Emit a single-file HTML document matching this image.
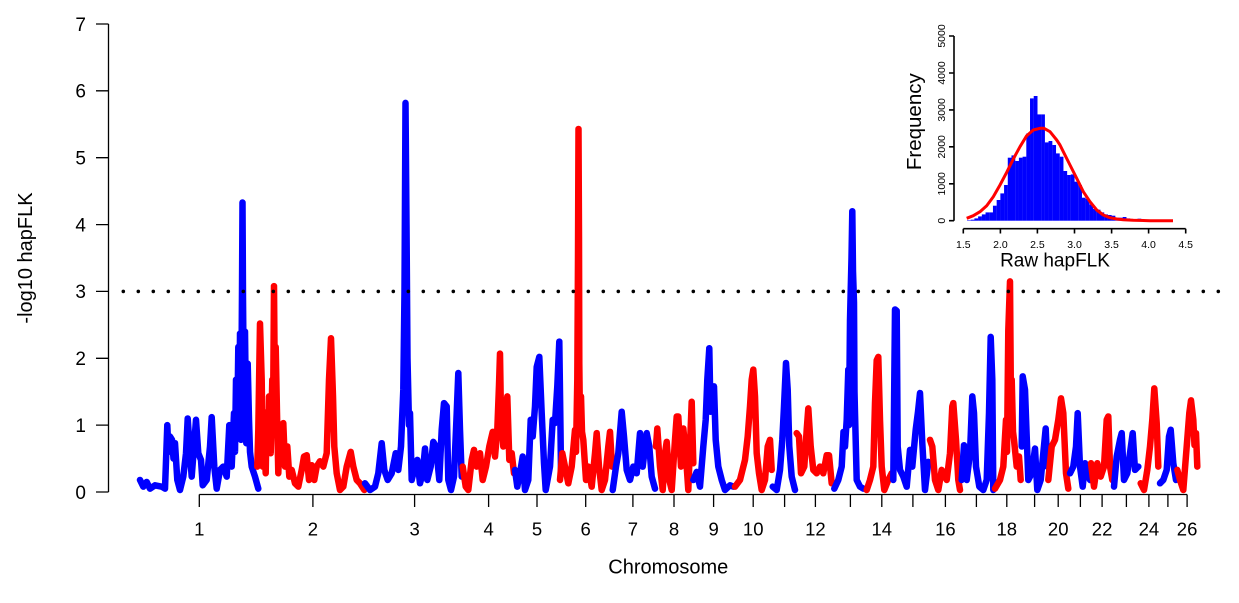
<!DOCTYPE html>
<html>
<head>
<meta charset="utf-8">
<style>
html,body{margin:0;padding:0;background:#fff;}
svg{display:block;}
text{font-family:"Liberation Sans",Arial,sans-serif;fill:#000;}
</style>
</head>
<body>
<svg width="1239" height="603" viewBox="0 0 1239 603" xmlns="http://www.w3.org/2000/svg">
<rect x="0" y="0" width="1239" height="603" fill="#fff"/>

<g transform="translate(0,492) scale(1,-66.86)" fill="none" stroke-linejoin="round" stroke-linecap="round" stroke-width="6.5">
<polyline vector-effect="non-scaling-stroke" stroke="#0000ff" points="140,0.18 143.3,0.08 146.7,0.15 150,0.05 155,0.1 161.7,0.08 165,0.05 167.3,1.0 168.5,0.6 170,0.83 172,0.78 173.5,0.5 175,0.73 177.3,0.18 180,0.03 183.3,0.23 186,0.58 187.7,1.1 190,0.58 191.7,0.23 194,0.68 196,1.08 198.3,0.58 201,0.48 202.7,0.1 206.7,0.18 210,0.68 211.7,1.12 214.3,0.38 216.7,0.05 220,0.33 223.3,0.38 226.7,0.23 229.3,1.0 231.7,0.38 234,1.18 235,0.6 236,1.68 237.3,1.03 238.3,2.17 239.3,0.93 240,2.37 241,0.78 242,3.0 242.5,4.33 243,2.9 243.7,1.68 244.3,0.9 245,2.4 246.3,0.73 247.7,1.92 249,1.08 250,0.6 251.7,0.38 255,0.23 258.3,0.05"/>
<polyline vector-effect="non-scaling-stroke" stroke="#ff0000" points="257.3,0.38 258.3,0.93 260,2.52 261.7,1.68 262.7,0.38 263.5,1.2 264.3,0.68 265.7,0.28 266.5,1.0 267.7,1.08 268.3,0.6 269,1.43 270.7,0.58 272.3,1.68 273,1.0 274,3.08 275,1.2 275.7,2.17 277,1.18 278.3,0.28 279.5,0.8 280.7,0.53 283.3,1.03 285,0.38 287.3,0.68 289.3,0.23 291.7,0.33 295,0.13 298.3,0.08 301.7,0.33 304,0.53 306.7,0.55 309,0.18 311.7,0.4 314.3,0.18 316.7,0.38 320,0.46 323.3,0.38 326.7,0.58 329,1.68 331,2.3 333,1.43 334.3,0.68 336.7,0.28 340,0.03 343.3,0.08 346.7,0.38 350.7,0.6 353.3,0.38 356.7,0.18 360,0.13 364.3,0.03"/>
<polyline vector-effect="non-scaling-stroke" stroke="#0000ff" points="365,0.13 370,0.03 375,0.08 378.3,0.28 381.7,0.73 384.3,0.33 387.7,0.18 391.7,0.28 395.7,0.58 398.3,0.33 401,0.68 403.3,1.53 404.5,3.0 405.5,5.82 406.5,4.0 407.5,2.0 409,1.0 410,1.18 411.7,0.18 415,0.38 417.3,0.48 420,0.13 422.7,0.28 425,0.65 427.3,0.18 430.7,0.38 433.3,0.75 436,0.68 439.3,0.18 441.7,0.93 444,1.33 446.7,1.28 448.3,0.18 451,0.03 454,0.23 456.7,1.18 458.3,1.78 460,0.93 461.7,0.23"/>
<polyline vector-effect="non-scaling-stroke" stroke="#ff0000" points="462.7,0.38 465.7,0.08 468.3,0.03 471.7,0.48 474,0.63 476.7,0.38 480,0.58 482.7,0.18 486,0.38 489.3,0.68 492.7,0.9 495,0.53 497.3,0.93 499,1.6 500,2.07 500.8,1.3 501.7,1.08 503.3,0.68 505.3,1.38 506.3,0.9 507.3,1.43 509.3,0.48 511.7,0.58 514,0.28"/>
<polyline vector-effect="non-scaling-stroke" stroke="#0000ff" points="515,0.33 517.3,0.08 520,0.28 522.7,0.53 525,0.03 528.3,0.18 530.7,1.08 532.7,0.83 535,1.28 536.7,1.87 539.3,2.02 541.7,1.18 544,0.43 545.7,0.03 550,0.38 552.7,1.08 555,1.03 557.3,1.58 559.3,2.25 560.5,0.93 561,0.3"/>
<polyline vector-effect="non-scaling-stroke" stroke="#ff0000" points="560,0.18 562.3,0.58 565,0.38 568.3,0.13 571.7,0.38 575,0.93 576,0.6 577.3,1.68 578,3.5 578.5,5.43 579,3.8 579.3,1.92 580,1.0 581,1.43 582,0.9 583.3,0.78 586,0.18 588.3,0.38 591.7,0.08 595,0.58 596.7,0.88 599,0.38 601.7,0.03 605,0.18 608.3,0.68 610,0.9 612,0.38"/>
<polyline vector-effect="non-scaling-stroke" stroke="#0000ff" points="612.7,0.03 616,0.38 618.3,0.58 621.7,1.2 624,0.83 626.7,0.33 630,0.18 633.3,0.38 636.7,0.28 640,0.88 642.7,0.38 646.7,0.88 649.3,0.68 651.7,0.23 655,0.05"/>
<polyline vector-effect="non-scaling-stroke" stroke="#ff0000" points="656,0.68 657.3,0.95 660,0.38 662.7,0.03 665,0.58 666.7,0.75 669.3,0.18 671.7,0.03 675,0.78 676.7,1.13 678.3,1.13 681,0.38 683.3,0.95 686,0.53 688.3,0.03 691.7,1.35 693.3,0.43"/>
<polyline vector-effect="non-scaling-stroke" stroke="#0000ff" points="693.3,0.18 696.7,0.3 700,0.08 703.3,0.68 705.7,1.08 707.3,1.68 709.3,2.15 710.5,1.2 711.7,1.53 714,1.58 715.7,0.78 718.3,0.38 721.7,0.18 725,0.03 730,0.1 733.3,0.08"/>
<polyline vector-effect="non-scaling-stroke" stroke="#ff0000" points="735,0.08 740,0.18 745,0.48 747.7,0.83 750,1.28 751.7,1.68 753.3,1.83 755,1.43 756.7,0.58 759,0.28 761.7,0.03 765,0.18 767.7,0.68 770,0.78 771.7,0.33"/>
<polyline vector-effect="non-scaling-stroke" stroke="#0000ff" points="772.7,0.08 776.7,0.03 780,0.33 782.3,0.78 784,1.28 786,1.93 787.7,1.53 789.3,0.68 791.7,0.23 795,0.03"/>
<polyline vector-effect="non-scaling-stroke" stroke="#ff0000" points="796.7,0.88 799,0.83 801,0.28 804.3,0.38 806.7,0.93 808.3,1.25 810.7,0.68 813.3,0.33 816.7,0.28 820,0.38 823.3,0.28 826.7,0.55 829,0.55 831.7,0.13"/>
<polyline vector-effect="non-scaling-stroke" stroke="#0000ff" points="834.3,0.05 838.3,0.18 841.7,0.38 843.5,0.9 845,0.68 846.7,1.08 848.3,1.83 849,1.0 850,2.57 851.5,3.5 852.3,4.2 853,3.3 854,2.83 854.5,1.5 855,1.18 856.7,0.18 860,0.08 863.3,0.05"/>
<polyline vector-effect="non-scaling-stroke" stroke="#ff0000" points="866.7,0.03 870,0.18 873.3,0.38 875,1.33 876.7,1.97 878.3,2.02 880,1.08 881.7,0.38 884.3,0.03 888.3,0.18 891.7,0.28"/>
<polyline vector-effect="non-scaling-stroke" stroke="#0000ff" points="893.3,0.18 895,2.73 896.7,2.71 897.7,0.68 900,0.33 903.3,0.23 906.7,0.08 910,0.63 912.3,0.38 915.7,0.93 918,1.2 920,1.48 922.3,0.73 925,0.03 928.3,0.45"/>
<polyline vector-effect="non-scaling-stroke" stroke="#ff0000" points="930,0.78 932.3,0.68 935,0.18 938.3,0.03 941.7,0.33 946.7,0.18 950,0.58 952.3,1.28 953.3,1.33 956,0.78 958.3,0.18 960,0.03"/>
<polyline vector-effect="non-scaling-stroke" stroke="#0000ff" points="961.7,0.18 964,0.7 966.7,0.18 970,0.58 972.3,1.43 974,1.18 976,0.38 979.3,0.08 983.3,0.03 986.7,0.18 989,1.18 990.7,2.32 992.3,1.68 993.3,0.03"/>
<polyline vector-effect="non-scaling-stroke" stroke="#ff0000" points="995,0.05 1000,0.18 1003.3,0.38 1006,1.08 1007,0.6 1008.3,2.42 1010,3.15 1011,1.2 1011.7,1.68 1013,0.9 1014,0.78 1016.7,0.38 1019,0.53 1020.7,0.18"/>
<polyline vector-effect="non-scaling-stroke" stroke="#0000ff" points="1021.7,0.68 1022.7,1.73 1025,1.53 1026.7,0.83 1028.3,0.18 1031.7,0.28 1035,0.65 1037.3,0.03 1040.7,0.18 1043.3,0.58 1045.7,0.95 1047.3,0.38"/>
<polyline vector-effect="non-scaling-stroke" stroke="#ff0000" points="1048.3,0.18 1051.7,0.68 1055,0.78 1058.3,1.08 1061,1.4 1063.3,1.18 1066,0.28 1068.3,0.05"/>
<polyline vector-effect="non-scaling-stroke" stroke="#0000ff" points="1070,0.28 1073.3,0.38 1076,0.68 1077.7,1.18 1080,0.38 1082.7,0.08 1085,0.43 1087.3,0.28 1090,0.18"/>
<polyline vector-effect="non-scaling-stroke" stroke="#ff0000" points="1091,0.43 1094,0.08 1097.3,0.43 1100.7,0.23 1104,0.38 1106.7,1.08 1108.3,1.13 1110,0.38 1112.3,0.18"/>
<polyline vector-effect="non-scaling-stroke" stroke="#0000ff" points="1114,0.08 1116.7,0.53 1120,0.78 1121.7,0.88 1124,0.18 1127.3,0.28 1130,0.58 1132.7,0.88 1135,0.33 1138.3,0.38"/>
<polyline vector-effect="non-scaling-stroke" stroke="#ff0000" points="1140.7,0.13 1144,0.03 1147.3,0.33 1150,0.68 1152.3,1.08 1154.3,1.55 1156.7,1.03 1158.3,0.38"/>
<polyline vector-effect="non-scaling-stroke" stroke="#0000ff" points="1160,0.13 1163.3,0.18 1166.7,0.33 1169,0.83 1170.7,0.93 1173.3,0.43 1176,0.18"/>
<polyline vector-effect="non-scaling-stroke" stroke="#ff0000" points="1177.3,0.33 1180,0.18 1183.3,0.03 1186.7,0.68 1189.3,1.18 1191,1.37 1193.3,1.08 1194.5,0.7 1196,0.88 1197.3,0.38"/>
</g>

<line x1="123.3" y1="291.4" x2="1222" y2="291.4" stroke="#000" stroke-width="3.6" stroke-linecap="round" stroke-dasharray="0 15"/>

<g stroke="#000" stroke-width="1.3" fill="none">
<line x1="108.5" y1="24" x2="108.5" y2="492"/>
<path d="M96 492H108.5M96 425.1H108.5M96 358.3H108.5M96 291.4H108.5M96 224.6H108.5M96 157.7H108.5M96 90.8H108.5M96 24H108.5"/>
</g>
<g font-size="19" text-anchor="end">
<text x="86" y="498.8">0</text>
<text x="86" y="431.9">1</text>
<text x="86" y="365.1">2</text>
<text x="86" y="298.2">3</text>
<text x="86" y="231.4">4</text>
<text x="86" y="164.5">5</text>
<text x="86" y="97.6">6</text>
<text x="86" y="30.8">7</text>
</g>
<text transform="translate(32,258) rotate(-90)" font-size="20" text-anchor="middle">-log10 hapFLK</text>

<g stroke="#000" stroke-width="1.3" fill="none">
<line x1="199.3" y1="494.5" x2="1187.1" y2="494.5"/>
<path d="M199.3 494.5V507M312.9 494.5V507M414.6 494.5V507M488.6 494.5V507M537 494.5V507M585.7 494.5V507M632.9 494.5V507M674 494.5V507M713.6 494.5V507M753.2 494.5V507M784.6 494.5V507M815.4 494.5V507M850.4 494.5V507M881.8 494.5V507M912.9 494.5V507M945.4 494.5V507M976.4 494.5V507M1006.8 494.5V507M1034.6 494.5V507M1058.2 494.5V507M1080.4 494.5V507M1102.1 494.5V507M1126.4 494.5V507M1148.9 494.5V507M1167.9 494.5V507M1187.1 494.5V507"/>
</g>
<g font-size="18.5" text-anchor="middle">
<text x="199.3" y="535.5">1</text>
<text x="312.9" y="535.5">2</text>
<text x="414.6" y="535.5">3</text>
<text x="488.6" y="535.5">4</text>
<text x="537" y="535.5">5</text>
<text x="585.7" y="535.5">6</text>
<text x="632.9" y="535.5">7</text>
<text x="674" y="535.5">8</text>
<text x="713.6" y="535.5">9</text>
<text x="753.2" y="535.5">10</text>
<text x="815.4" y="535.5">12</text>
<text x="881.8" y="535.5">14</text>
<text x="945.4" y="535.5">16</text>
<text x="1006.8" y="535.5">18</text>
<text x="1058.2" y="535.5">20</text>
<text x="1102.1" y="535.5">22</text>
<text x="1148.9" y="535.5">24</text>
<text x="1187.1" y="535.5">26</text>
</g>
<text x="668.3" y="573.5" font-size="20" text-anchor="middle">Chromosome</text>

<g transform="translate(963.3,220.7) scale(74.13,-1)" fill="#0000ff">
<rect x="0.05" y="0" width="0.051" height="0.5"/>
<rect x="0.10" y="0" width="0.051" height="1"/>
<rect x="0.15" y="0" width="0.051" height="2.3"/>
<rect x="0.20" y="0" width="0.051" height="4.3"/>
<rect x="0.25" y="0" width="0.051" height="6.3"/>
<rect x="0.30" y="0" width="0.051" height="8.3"/>
<rect x="0.35" y="0" width="0.051" height="8.3"/>
<rect x="0.40" y="0" width="0.051" height="15"/>
<rect x="0.45" y="0" width="0.051" height="20.7"/>
<rect x="0.50" y="0" width="0.051" height="27.3"/>
<rect x="0.55" y="0" width="0.051" height="35.7"/>
<rect x="0.60" y="0" width="0.051" height="63"/>
<rect x="0.65" y="0" width="0.051" height="65.3"/>
<rect x="0.70" y="0" width="0.051" height="59.7"/>
<rect x="0.75" y="0" width="0.051" height="63"/>
<rect x="0.80" y="0" width="0.051" height="64"/>
<rect x="0.85" y="0" width="0.051" height="87.3"/>
<rect x="0.90" y="0" width="0.051" height="122.3"/>
<rect x="0.95" y="0" width="0.051" height="124.7"/>
<rect x="1.00" y="0" width="0.051" height="106.3"/>
<rect x="1.05" y="0" width="0.051" height="106.3"/>
<rect x="1.10" y="0" width="0.051" height="78.3"/>
<rect x="1.15" y="0" width="0.051" height="79.7"/>
<rect x="1.20" y="0" width="0.051" height="75.7"/>
<rect x="1.25" y="0" width="0.051" height="67.3"/>
<rect x="1.30" y="0" width="0.051" height="64"/>
<rect x="1.35" y="0" width="0.051" height="49.7"/>
<rect x="1.40" y="0" width="0.051" height="45.7"/>
<rect x="1.45" y="0" width="0.051" height="46.3"/>
<rect x="1.50" y="0" width="0.051" height="39"/>
<rect x="1.55" y="0" width="0.051" height="35.7"/>
<rect x="1.60" y="0" width="0.051" height="23"/>
<rect x="1.65" y="0" width="0.051" height="21.7"/>
<rect x="1.70" y="0" width="0.051" height="16.3"/>
<rect x="1.75" y="0" width="0.051" height="11.7"/>
<rect x="1.80" y="0" width="0.051" height="11"/>
<rect x="1.85" y="0" width="0.051" height="8.3"/>
<rect x="1.90" y="0" width="0.051" height="6.3"/>
<rect x="1.95" y="0" width="0.051" height="5.7"/>
<rect x="2.00" y="0" width="0.051" height="5"/>
<rect x="2.05" y="0" width="0.051" height="3"/>
<rect x="2.10" y="0" width="0.051" height="3"/>
<rect x="2.15" y="0" width="0.051" height="3.7"/>
<rect x="2.20" y="0" width="0.051" height="2.3"/>
<rect x="2.25" y="0" width="0.051" height="1.7"/>
<rect x="2.30" y="0" width="0.051" height="1.7"/>
<rect x="2.35" y="0" width="0.051" height="2"/>
<rect x="2.40" y="0" width="0.051" height="1.3"/>
<rect x="2.45" y="0" width="0.051" height="1"/>
<rect x="2.50" y="0" width="0.051" height="0.7"/>
<rect x="2.55" y="0" width="0.051" height="1"/>
<rect x="2.60" y="0" width="0.051" height="0.7"/>
<rect x="2.65" y="0" width="0.051" height="0.4"/>
<rect x="2.70" y="0" width="0.051" height="0.7"/>
<rect x="2.75" y="0" width="0.051" height="0.4"/>
</g>

<polyline fill="none" stroke="#ff0000" stroke-width="3" stroke-linejoin="round" points="966.7,218.3 973.3,215.7 980,211.7 986.7,205.7 993.3,196.7 1000,185 1006.7,172.3 1013.3,159 1020,146.7 1026.7,135.7 1033.3,130 1040,128.3 1044,128.3 1050,131.7 1056.7,140 1060,145 1063.3,151.7 1070,165 1076.7,178.3 1083.3,191.7 1090,201.7 1096.7,210 1103.3,215 1110,217.7 1116.7,219 1123.3,219.7 1133.3,220.3 1150,220.7 1173,220.7"/>

<g stroke="#000" stroke-width="1.6" fill="none">
<line x1="954" y1="36" x2="954" y2="220.7"/>
<path d="M949 36H954M949 73H954M949 109.9H954M949 146.8H954M949 183.8H954M949 220.7H954"/>
<line x1="963.3" y1="228.7" x2="1185.7" y2="228.7"/>
<path d="M963.3 228.7V233.5M1000.4 228.7V233.5M1037.4 228.7V233.5M1074.5 228.7V233.5M1111.6 228.7V233.5M1148.6 228.7V233.5M1185.7 228.7V233.5"/>
</g>
<g font-size="10.5" text-anchor="middle">
<text x="963.3" y="248">1.5</text>
<text x="1000.4" y="248">2.0</text>
<text x="1037.4" y="248">2.5</text>
<text x="1074.5" y="248">3.0</text>
<text x="1111.6" y="248">3.5</text>
<text x="1148.6" y="248">4.0</text>
<text x="1185.7" y="248">4.5</text>
<text transform="translate(945,220.7) rotate(-90)">0</text>
<text transform="translate(945,183.8) rotate(-90)">1000</text>
<text transform="translate(945,146.8) rotate(-90)">2000</text>
<text transform="translate(945,109.9) rotate(-90)">3000</text>
<text transform="translate(945,73) rotate(-90)">4000</text>
<text transform="translate(945,36) rotate(-90)">5000</text>
</g>
<text transform="translate(921,121.7) rotate(-90)" font-size="20.5" text-anchor="middle">Frequency</text>
<text x="1055" y="266.5" font-size="19" text-anchor="middle">Raw hapFLK</text>
</svg>
</body>
</html>
